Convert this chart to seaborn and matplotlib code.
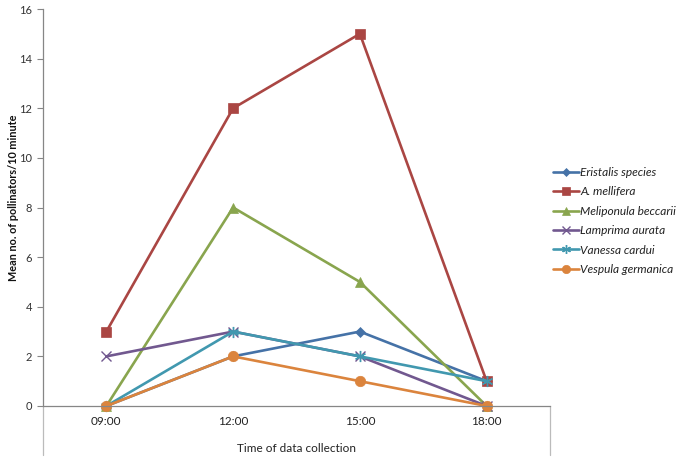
import matplotlib
matplotlib.use("Agg")
import matplotlib.pyplot as plt
import seaborn as sns
import pandas as pd

times = ["09:00", "12:00", "15:00", "18:00"]
species = ["Eristalis species", "A. mellifera", "Meliponula beccarii",
           "Lamprima aurata", "Vanessa cardui", "Vespula germanica"]
eristalis = [0, 2, 3, 1]
mellifera = [3, 12, 15, 1]
meliponula = [0, 8, 5, 0]
lamprima = [2, 3, 2, 0]
vanessa = [0, 3, 2, 1]
vespula = [0, 2, 1, 0]
yticks = [0, 2, 4, 6, 8, 10, 12, 14, 16]

series = [eristalis, mellifera, meliponula, lamprima, vanessa, vespula]
colors = ["#4572A7", "#AA4643", "#89A54E", "#71588F", "#4198AF", "#DB843D"]
marks = ["D", "s", "^", "x", (6, 2, 0), "o"]
msizes = [5, 7, 7, 7, 8, 7.5]

rows = []
for sp, vals in zip(species, series):
    for t, v in zip(times, vals):
        rows.append({"time": t, "value": v, "species": sp})
df = pd.DataFrame(rows)

sns.set_style("white")
plt.rcParams["font.family"] = ["Lato", "DejaVu Sans"]

fig = plt.figure(figsize=(6.85, 4.62), dpi=100)
ax = fig.add_axes([43/685, 1-406/462, (550-43)/685, (406-9)/462])

sns.lineplot(data=df, x="time", y="value", hue="species",
             palette=dict(zip(species, colors)),
             linewidth=1.9, legend=False, ax=ax, sort=False)

for line, c, ms, mk in zip(ax.lines, colors, msizes, marks):
    line.set_marker(mk)
    line.set_markeredgecolor(c)
    line.set_markerfacecolor(c)
    line.set_markersize(ms)
    line.set_markeredgewidth(1.0 if mk in ("x", (6, 2, 0)) else 0.5)
    line.set_clip_on(False)

ax.set_xlim(-0.5, 3.5)
ax.set_ylim(0, 16)
ax.set_yticks(yticks)
ax.set_yticklabels([str(v) for v in yticks], fontsize=8, color="#333333")
ax.set_xticks(range(len(times)))
ax.set_xticklabels(times, fontsize=8.5, color="#222222")
ax.tick_params(axis="x", length=0, pad=7)
ax.tick_params(axis="y", length=4, width=0.8, color="#868686", pad=4, left=True)

for s in ["top", "right"]:
    ax.spines[s].set_visible(False)
for s in ["left", "bottom"]:
    ax.spines[s].set_color("#868686")
    ax.spines[s].set_linewidth(0.9)

# frame segments below the category axis
ax.plot([0, 0], [0, -0.124], transform=ax.transAxes, color="#BBBBBB",
        lw=0.9, clip_on=False)
ax.plot([1, 1], [0, -0.124], transform=ax.transAxes, color="#BBBBBB",
        lw=0.9, clip_on=False)

ax.set_xlabel("Time of data collection", fontsize=8.5, color="#222222", labelpad=12)
ax.set_ylabel("Mean no. of pollinators/10 minute", fontsize=7.8,
              fontweight="bold", color="#111111")
ax.yaxis.set_label_coords(-0.048, 0.524)

leg = ax.legend(handles=ax.lines[:6], labels=species,
                loc="center left", bbox_to_anchor=(553/685, 1-221/462),
                bbox_transform=fig.transFigure, frameon=False,
                borderpad=0, borderaxespad=0, handlelength=2.2,
                handletextpad=0.1, labelspacing=0.7, markerscale=0.8,
                prop={"style": "italic", "size": 8.6})
for t in leg.get_texts():
    t.set_color("#222222")

fig.savefig("out.png", dpi=100)
